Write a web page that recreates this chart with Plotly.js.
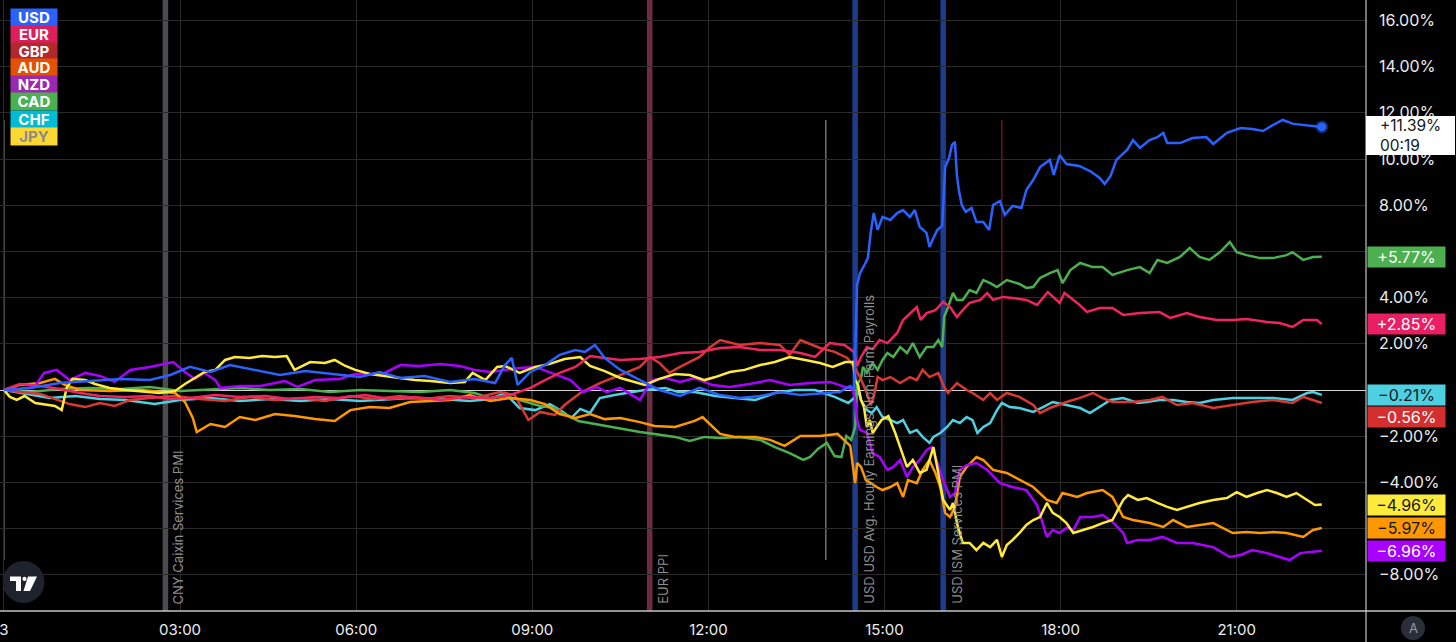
<!DOCTYPE html>
<html>
<head>
<meta charset="utf-8">
<script src="https://cdn.plot.ly/plotly-3.0.1.min.js"></script>
<style>html,body{margin:0;padding:0;background:#000;}#chart{width:1456px;height:642px;}</style>
</head>
<body>
<div id="chart"></div>
<script>
// ---- data: minutes after 00:00 (3 Feb) and % change ----
const currencies = ['USD','EUR','GBP','AUD','NZD','CAD','CHF','JPY'];

const usdT = [0,27,57,88,119,149,170,190,211,231,257,282,308,333,364,384,405,430,456,481,502,512,519,525,538,553,568,584,594,604,614,630,650,670,691,711,732,752,773,793,814,834,854,865,869,872,875,879,883,886,889,893,898,906,913,919,926,931,936,943,946,950,954,959,962,966,969,972,974,976,979,983,989,994,1001,1007,1011,1018,1023,1031,1040,1045,1052,1059,1069,1073,1079,1086,1099,1110,1120,1125,1131,1137,1148,1154,1161,1171,1179,1185,1189,1202,1215,1229,1236,1250,1264,1276,1287,1297,1307,1318,1332,1347];
const usdV = [0,0.09,0.30,0.39,0.48,0.43,0.65,1.00,0.78,1.08,0.87,0.65,0.82,0.69,0.56,0.78,0.52,0.61,0.35,0.48,0.30,1.08,1.39,0.22,0.78,1.08,1.52,1.73,1.65,1.95,1.39,0.87,0.43,0,-0.26,0.09,-0.22,-0.35,-0.26,-0.09,-0.22,-0.17,-0.09,0.17,0,4.55,5.06,5.37,5.71,6.84,7.66,6.93,7.49,7.36,7.66,7.79,7.49,7.79,7.06,6.80,6.19,6.58,6.93,7.10,9.65,10.04,10.61,10.74,9.31,8.66,8.01,7.71,7.88,7.27,7.27,6.93,8.01,8.18,7.58,7.97,7.88,8.66,9.09,9.65,9.96,9.31,10.17,9.78,9.70,9.48,9.18,8.92,9.26,9.96,10.39,10.82,10.48,10.82,10.95,11.13,10.69,10.69,10.91,10.95,10.65,11.13,11.34,11.30,11.21,11.47,11.69,11.52,11.47,11.39];

const eurT = [0,16,37,57,78,98,124,149,170,190,216,241,267,292,318,343,369,394,420,446,471,497,517,538,553,568,584,599,614,630,650,670,691,711,732,752,773,793,814,829,844,859,869,872,876,882,888,895,903,913,919,926,933,937,943,952,960,967,974,980,987,998,1005,1011,1021,1031,1045,1056,1067,1079,1084,1097,1107,1120,1133,1144,1161,1181,1192,1209,1222,1240,1256,1270,1291,1304,1317,1328,1342,1347];
const eurV = [0,0.26,0.17,0.04,-0.13,-0.26,-0.30,-0.26,-0.39,-0.35,-0.22,-0.30,-0.26,-0.39,-0.30,-0.35,-0.22,-0.39,-0.30,-0.43,-0.30,-0.35,-0.22,0.09,0.43,0.74,1.00,1.47,1.39,1.30,1.34,1.43,1.60,1.65,1.82,1.86,1.73,1.73,1.60,1.43,2.03,1.95,1.65,1.04,1.43,1.86,1.77,2.16,2.03,2.47,3.03,3.33,3.59,3.03,3.33,3.46,3.81,3.59,3.16,3.46,3.77,3.90,4.20,3.90,4.03,3.98,3.90,3.68,4.24,3.77,4.20,3.77,3.38,3.55,3.55,3.25,3.33,3.38,3.12,3.33,3.16,3.03,3.03,3.07,2.94,2.90,2.73,3.03,3.03,2.85];

const gbpT = [0,16,37,52,67,83,98,113,129,149,175,200,226,251,277,303,328,354,379,405,430,456,481,507,522,536,548,563,573,589,609,630,650,660,670,680,691,711,722,732,752,773,793,803,814,834,849,862,870,875,882,886,889,893,898,906,916,926,933,939,946,955,961,965,974,984,990,1001,1008,1015,1025,1038,1052,1059,1069,1086,1099,1113,1123,1133,1154,1171,1184,1199,1215,1236,1256,1276,1297,1317,1328,1347];
const gbpV = [0,-0.09,-0.17,-0.39,-0.61,-0.74,-0.56,-0.69,-0.43,-0.35,-0.26,-0.39,-0.48,-0.30,-0.43,-0.35,-0.48,-0.26,-0.39,-0.26,-0.39,-0.26,-0.35,-0.09,-0.22,-1.30,-0.95,-1.08,-0.65,-0.13,0.30,0.65,1.00,1.43,1.17,0.74,1.00,1.43,1.86,2.16,1.95,2.03,1.95,1.52,2.16,1.82,1.65,1.39,0.95,0.56,-0.13,-0.65,-0.30,0.56,0.43,0.56,0.30,0.56,0.43,0.87,0.56,0.74,0.13,-0.13,0.30,0,-0.13,-0.43,-0.13,-0.43,-0.13,-0.30,-0.65,-1.00,-0.78,-0.52,-0.35,-0.13,-0.35,-0.52,-0.52,-0.43,-0.30,-0.65,-0.56,-0.78,-0.65,-0.52,-0.43,-0.56,-0.30,-0.56];

const audT = [0,16,37,52,62,78,108,139,175,185,193,197,211,226,241,257,277,297,318,338,354,374,394,415,436,456,476,497,517,538,553,568,584,599,614,630,650,665,686,706,714,732,747,768,783,798,814,834,852,865,870,872,876,881,886,892,898,906,913,919,924,933,939,946,952,957,962,967,972,977,984,994,1001,1011,1025,1038,1052,1066,1076,1082,1097,1107,1123,1133,1144,1154,1171,1185,1195,1209,1222,1236,1256,1270,1284,1297,1311,1328,1338,1347];
const audV = [0,0.22,0.30,0.48,0.22,0,-0.04,0,-0.13,-0.52,-1.21,-1.82,-1.47,-1.60,-1.17,-1.30,-1.04,-1.13,-1.26,-1.34,-0.87,-0.74,-0.78,-0.52,-0.48,-0.43,-0.22,-0.48,-0.35,-0.43,-0.61,-1.04,-1.21,-1.04,-1.26,-1.21,-1.39,-1.56,-1.60,-1.34,-1.17,-1.90,-2.03,-2.03,-2.16,-2.42,-1.99,-1.99,-1.90,-2.42,-4.03,-3.16,-3.33,-3.90,-4.03,-4.20,-4.33,-4.20,-4.03,-4.63,-3.90,-4.03,-3.46,-3.03,-3.59,-4.20,-5.32,-5.50,-5.06,-3.77,-3.33,-2.90,-3.03,-3.46,-3.59,-3.90,-4.20,-4.76,-4.89,-4.46,-4.63,-4.46,-4.33,-4.63,-5.50,-5.63,-5.76,-5.93,-5.63,-5.93,-5.84,-5.76,-6.19,-6.15,-6.19,-6.15,-6.19,-6.36,-6.06,-5.97];

const nzdT = [0,16,31,41,54,67,83,98,113,129,149,165,173,185,195,205,216,221,241,262,287,300,318,343,359,374,389,405,425,446,466,481,497,512,527,543,563,579,592,606,616,630,650,662,676,691,706,724,742,762,783,803,824,844,863,868,870,872,875,882,888,895,903,909,916,923,929,936,943,948,953,960,967,972,977,984,994,1005,1018,1031,1045,1056,1066,1072,1079,1086,1093,1100,1113,1123,1133,1144,1148,1159,1171,1184,1199,1215,1236,1253,1264,1276,1291,1304,1314,1325,1338,1347];
const nzdV = [0,0.04,0.13,0.74,0.87,0.43,0.74,0.61,0.35,0.87,1.00,1.13,1.21,0.78,0.48,0.74,0.43,0.09,0.17,0.17,0.39,0.13,0.43,0.48,0.69,0.69,0.74,1.08,1.04,1.13,1.04,0.87,0.78,0.87,0.95,1.00,0.69,0.43,-0.09,0.13,-0.09,0.09,-0.43,0.43,0.52,0.35,0.52,0.22,0.13,0.26,0.43,0.22,0.30,0.35,0.09,0,-0.43,-1.30,-1.73,-1.86,-2.73,-2.90,-3.46,-3.33,-3.03,-3.77,-3.33,-3.03,-2.60,-2.47,-3.03,-3.90,-4.63,-4.46,-3.46,-3.25,-3.16,-3.46,-4.03,-4.20,-4.33,-4.98,-6.36,-6.06,-6.19,-5.97,-6.06,-5.50,-5.50,-5.41,-5.71,-6.19,-6.62,-6.49,-6.49,-6.36,-6.62,-6.62,-6.80,-7.23,-7.14,-6.93,-7.06,-7.23,-7.36,-7.06,-7.01,-6.96];

const cadT = [0,27,57,88,119,149,180,211,241,272,303,333,364,394,425,456,481,497,512,527,548,563,573,587,599,614,630,650,665,686,701,716,732,752,773,788,803,817,824,832,841,849,856,861,866,870,872,876,878,882,888,893,898,903,909,916,923,929,936,943,950,955,959,961,965,970,974,980,987,994,1001,1008,1015,1025,1038,1045,1052,1059,1069,1077,1082,1090,1100,1113,1123,1133,1148,1161,1171,1179,1189,1202,1212,1222,1232,1243,1253,1260,1270,1284,1297,1311,1317,1328,1338,1347];
const cadV = [0,-0.09,0.04,0.09,0.04,0.13,-0.04,0.04,0.09,0,0.04,-0.09,0,-0.04,-0.09,0,-0.13,-0.35,-0.26,-0.43,-0.69,-0.78,-1.04,-1.34,-1.43,-1.56,-1.69,-1.82,-1.90,-2.03,-2.21,-2.03,-2.08,-2.03,-2.16,-2.47,-2.73,-3.03,-2.90,-2.55,-2.29,-2.86,-2.90,-1.99,-2.16,-1.60,0.22,0.52,1.00,0.74,1.17,0.87,1.30,1.60,1.43,1.86,1.60,2.03,1.43,1.86,1.86,2.16,1.86,3.16,3.59,4.20,3.90,3.90,4.33,4.20,4.76,4.63,4.46,4.76,4.59,4.42,4.46,4.85,5.06,5.19,4.63,5.19,5.50,5.32,5.32,4.98,5.19,5.32,5.06,5.63,5.50,5.76,6.15,5.76,5.63,5.97,6.41,5.97,5.84,5.71,5.71,5.84,5.97,5.63,5.76,5.77];

const chfT = [0,21,47,73,98,124,154,180,211,241,272,303,333,364,389,415,446,476,497,512,527,543,558,570,580,589,599,609,624,640,655,676,689,706,727,747,768,788,808,829,849,863,870,873,876,882,887,892,898,906,913,919,926,933,939,946,950,957,964,970,977,984,990,995,1001,1008,1015,1020,1028,1038,1052,1062,1072,1086,1100,1110,1120,1131,1144,1159,1168,1181,1195,1209,1222,1236,1256,1276,1297,1317,1332,1338,1347];
const chfV = [0,-0.17,-0.35,-0.26,-0.39,-0.43,-0.61,-0.43,-0.35,-0.48,-0.39,-0.48,-0.39,-0.48,-0.43,-0.35,-0.39,-0.48,-0.39,-0.13,-0.78,-0.87,-0.61,-0.91,-1.21,-0.82,-0.99,-0.35,-0.22,-0.09,0,0.09,-0.09,-0.09,-0.26,-0.35,-0.43,-0.13,0,0,-0.30,-0.56,-0.30,0,-0.43,-0.87,-1.00,-0.74,-1.17,-1.30,-1.43,-1.30,-1.86,-1.73,-2.03,-2.29,-2.03,-1.86,-1.60,-1.30,-1.43,-1.17,-1.30,-1.86,-1.60,-1.43,-0.87,-0.56,-0.74,-0.78,-0.95,-0.74,-0.52,-0.65,-0.78,-1.00,-0.74,-0.43,-0.35,-0.56,-0.52,-0.43,-0.43,-0.52,-0.56,-0.43,-0.35,-0.35,-0.35,-0.43,-0.13,-0.09,-0.21];

const jpyT = [0,6,13,21,32,42,52,59,64,70,83,93,108,124,144,159,175,185,195,205,216,226,236,251,264,277,289,297,313,328,338,349,359,374,389,405,420,436,456,471,479,492,504,512,527,543,558,573,589,599,614,630,645,655,670,686,701,716,727,742,757,773,788,803,819,834,847,860,868,870,873,876,879,882,885,888,892,897,904,911,916,923,929,936,943,950,955,960,967,970,975,980,987,994,1001,1008,1015,1020,1025,1031,1038,1045,1052,1059,1066,1072,1079,1086,1093,1103,1113,1123,1133,1144,1149,1159,1168,1179,1189,1199,1209,1222,1236,1250,1260,1270,1281,1291,1301,1311,1321,1332,1340,1347];
const jpyV = [0,-0.30,-0.43,-0.26,-0.56,-0.61,-0.69,-0.87,0.09,0.48,0.43,0.26,0.09,0,-0.09,-0.13,-0.04,0.26,0.52,0.78,0.87,1.30,1.43,1.39,1.47,1.43,1.47,0.87,1.21,1.17,1.30,1.04,0.87,0.69,0.61,0.52,0.43,0.39,0.30,0.35,0.74,0.43,1.00,1.04,0.74,1.00,1.13,1.34,1.43,1.04,0.82,0.52,0.35,0.22,0.48,0.69,0.65,0.43,0.56,0.78,0.87,1.08,1.21,1.43,1.30,1.17,1.00,1.21,1.21,0.43,0.22,-0.43,-0.74,-1.60,-1.30,-1.86,-1.60,-1.30,-1.13,-1.86,-2.47,-3.33,-3.03,-3.59,-3.46,-2.47,-3.59,-4.76,-5.19,-4.89,-5.93,-6.62,-6.62,-6.93,-6.62,-6.80,-6.49,-7.23,-6.71,-6.49,-6.19,-5.84,-5.63,-5.50,-4.89,-5.32,-5.50,-5.76,-6.19,-6.06,-5.93,-5.76,-5.63,-4.76,-4.55,-4.76,-4.68,-4.89,-5.06,-5.19,-5.06,-4.89,-4.76,-4.68,-4.42,-4.63,-4.46,-4.33,-4.46,-4.63,-4.46,-4.76,-4.98,-4.96];

// axis ticks
const tickMinutes = [0,180,360,540,720,900,1080,1260];
const tickLabels = ['3','03:00','06:00','09:00','12:00','15:00','18:00','21:00'];
const yTickVals = [-8,-6,-4,-2,0,2,4,6,8,10,12,14,16];
const yHiddenTicks = [-6,0,6];   // covered by the value tags in the reference

// economic events (minutes) and their labels
const majorEventMinutes = [165,660,870,960];
const majorEventLabels = ['CNY Caixin Services PMI','EUR PPI','USD USD Avg. Hourly Earnings Non-Farm Payrolls','USD ISM Services PMI'];
const minorEventMinutes = [0,540,840,1020];
const countdownText = '00:19';

// ---- styles ----
const lineColors = {USD:'#2962ff',EUR:'#f0245e',GBP:'#d83a33',AUD:'#ff9800',NZD:'#aa00ff',CAD:'#4caf50',CHF:'#4dd0e1',JPY:'#ffeb3b'};
const legendColors = {USD:'#2962ff',EUR:'#dc1f5c',GBP:'#b3282e',AUD:'#e65100',NZD:'#9c27b0',CAD:'#4caf50',CHF:'#00bcd4',JPY:'#fdd835'};
const tagColors = {EUR:'#e91e63',GBP:'#d32f2f',AUD:'#ff9800',NZD:'#aa00ff',CAD:'#4caf50',CHF:'#4dd0e1',JPY:'#ffeb3b'};
const legendText = {JPY:'#8a8a8a'};
const tagText = {CHF:'#131722',JPY:'#131722',AUD:'#131722'};
const majorEventColors = ['#4b4b50','#6e2c42','#1d3c8e','#1d3c8e'];
const minorEventColors = ['#5a5a5a','#707070','#707070','#5e1a1a'];
const FONT = 'Inter, Roboto, "Noto Sans", sans-serif';

const pad = n => String(n).padStart(2,'0');
const ts = m => `2023-02-03 ${pad(Math.floor(m/60))}:${pad(m%60)}`;

const series = {
  USD:[usdT,usdV], EUR:[eurT,eurV], GBP:[gbpT,gbpV], AUD:[audT,audV],
  NZD:[nzdT,nzdV], CAD:[cadT,cadV], CHF:[chfT,chfV], JPY:[jpyT,jpyV]
};

const drawOrder = ['CHF','CAD','GBP','AUD','NZD','JPY','EUR','USD'];
const traces = drawOrder.map(c => ({
  type:'scatter', mode:'lines', name:c,
  x: series[c][0].map(ts), y: series[c][1],
  line:{color:lineColors[c], width:2.5},
  hoverinfo:'skip'
}));
// end marker for USD
const uL = usdT.length-1;
traces.push({type:'scatter', mode:'markers', x:[ts(usdT[uL])], y:[usdV[uL]],
  marker:{size:9, color:'#2962ff', line:{color:'rgba(41,98,255,0.4)', width:4}}, hoverinfo:'skip'});

const W = 1366, H = 611;
const PX = px => px / W;
const PY = py => (H - py) / H;

const shapes = [];
const annotations = [];

// major event bars
majorEventMinutes.forEach((m,i) => {
  shapes.push({type:'line', xref:'x', yref:'paper', x0:ts(m), x1:ts(m), y0:0, y1:1,
    line:{color:majorEventColors[i], width:5.5}, layer:'below'});
  annotations.push({xref:'x', yref:'paper', x:ts(m), xshift:13, y:PY(606), yanchor:'bottom', xanchor:'center',
    text:majorEventLabels[i], textangle:-90, showarrow:false, font:{family:FONT, size:13, color:'#8e8e8e'}});
});
// minor event lines
minorEventMinutes.forEach((m,i) => {
  shapes.push({type:'line', xref:'x', yref:'paper', x0:ts(m), x1:ts(m), y0:PY(560), y1:PY(120),
    line:{color:minorEventColors[i], width:1.5}, layer:'below'});
});
// axis frame lines
shapes.push({type:'line', xref:'paper', yref:'paper', x0:0, x1:1456/W, y0:0, y1:0, line:{color:'#c4c4c4', width:1.5}});
shapes.push({type:'line', xref:'paper', yref:'paper', x0:1, x1:1, y0:PY(642), y1:1, line:{color:'#c4c4c4', width:1.2}});

// legend boxes
currencies.forEach((c,i) => {
  const yc = 17 + 17*i;
  annotations.push({xref:'paper', yref:'paper', x:PX(10), y:PY(yc), xanchor:'left', yanchor:'middle',
    text:'<b>'+c+'</b>', showarrow:false, bgcolor:legendColors[c], borderpad:0, width:46, height:17,
    font:{family:FONT, size:15, color:legendText[c] || '#ffffff'}});
});

// value tags on the right
const fmt = v => (v >= 0 ? '+' : '\u2212') + Math.abs(v).toFixed(2) + '%';
['CAD','EUR','CHF','GBP','JPY','AUD','NZD'].forEach(c => {
  const v = series[c][1][series[c][1].length-1];
  annotations.push({xref:'paper', yref:'y', x:1, xshift:1, y:v, yshift:(c==='GBP'?-14:0), xanchor:'left', yanchor:'middle',
    text:fmt(v), showarrow:false, bgcolor:tagColors[c],
    borderpad:0, width:77, height:20, font:{family:FONT, size:16, color:tagText[c] || '#ffffff'}});
});
// USD tag (white box)
const usdLast = usdV[uL];
shapes.push({type:'rect', xref:'paper', yref:'paper', x0:1, x1:1455/W, y0:PY(155), y1:PY(116), fillcolor:'#ffffff', line:{width:0}});
annotations.push({xref:'paper', yref:'y', x:1, xshift:12, y:usdLast, yshift:-8.5, xanchor:'left', yanchor:'middle', align:'left',
  text:fmt(usdLast)+'<br>'+countdownText, showarrow:false, font:{family:FONT, size:15.5, color:'#131722'}});

// TradingView logo
shapes.push({type:'circle', xref:'paper', yref:'paper', x0:PX(2.5), x1:PX(44.5), y0:PY(603), y1:PY(561), fillcolor:'#1e222d', line:{width:0}});
const pth = pts => 'M' + pts.map(p => PX(p[0]) + ',' + PY(p[1])).join(' L') + ' Z';
shapes.push({type:'path', xref:'paper', yref:'paper', path:pth([[10,576.5],[21,576.5],[21,591],[16,591],[16,581],[10,581]]), fillcolor:'#ffffff', line:{width:0}});
shapes.push({type:'circle', xref:'paper', yref:'paper', x0:PX(22.4), x1:PX(26.6), y0:PY(581), y1:PY(576.8), fillcolor:'#ffffff', line:{width:0}});
shapes.push({type:'path', xref:'paper', yref:'paper', path:pth([[28,576.5],[37,576.5],[30,591],[23.5,591]]), fillcolor:'#ffffff', line:{width:0}});
// auto-scale button
shapes.push({type:'circle', xref:'paper', yref:'paper', x0:PX(1401), x1:PX(1425), y0:PY(640), y1:PY(616), fillcolor:'#2a2e39', line:{width:0}});
annotations.push({xref:'paper', yref:'paper', x:PX(1413), y:PY(628), xanchor:'center', yanchor:'middle', text:'A', showarrow:false,
  font:{family:FONT, size:13, color:'#9598a1'}});

const layout = {
  width:1456, height:642,
  paper_bgcolor:'#000000', plot_bgcolor:'#000000',
  margin:{l:0, r:90, t:0, b:31},
  showlegend:false,
  xaxis:{type:'date', range:['2023-02-02 23:55:55','2023-02-03 23:12:11'],
    tickvals:tickMinutes.map(ts), ticktext:tickLabels, ticklabeloverflow:'allow',
    showgrid:true, gridcolor:'#2b2b2b', gridwidth:1, zeroline:false, showline:false, ticks:'',
    tickfont:{family:FONT, size:15, color:'#ececec'}, ticklabelstandoff:8, fixedrange:true},
  yaxis:{side:'right', range:[-9.567,16.883], tickvals:yTickVals,
    ticktext:yTickVals.map(v => yHiddenTicks.includes(v) ? '' : (v < 0 ? '\u2212' : '') + Math.abs(v).toFixed(2) + '%'),
    showgrid:true, gridcolor:'#2b2b2b', gridwidth:1, zeroline:true, zerolinecolor:'#d6d6d6', zerolinewidth:1,
    showline:false, ticks:'', tickfont:{family:FONT, size:16, color:'#ececec'}, ticklabelstandoff:12, fixedrange:true},
  shapes:shapes, annotations:annotations,
  font:{family:FONT, color:'#e6e6e6'}
};

Plotly.newPlot('chart', traces, layout, {displayModeBar:false, staticPlot:true});
</script>
</body>
</html>
